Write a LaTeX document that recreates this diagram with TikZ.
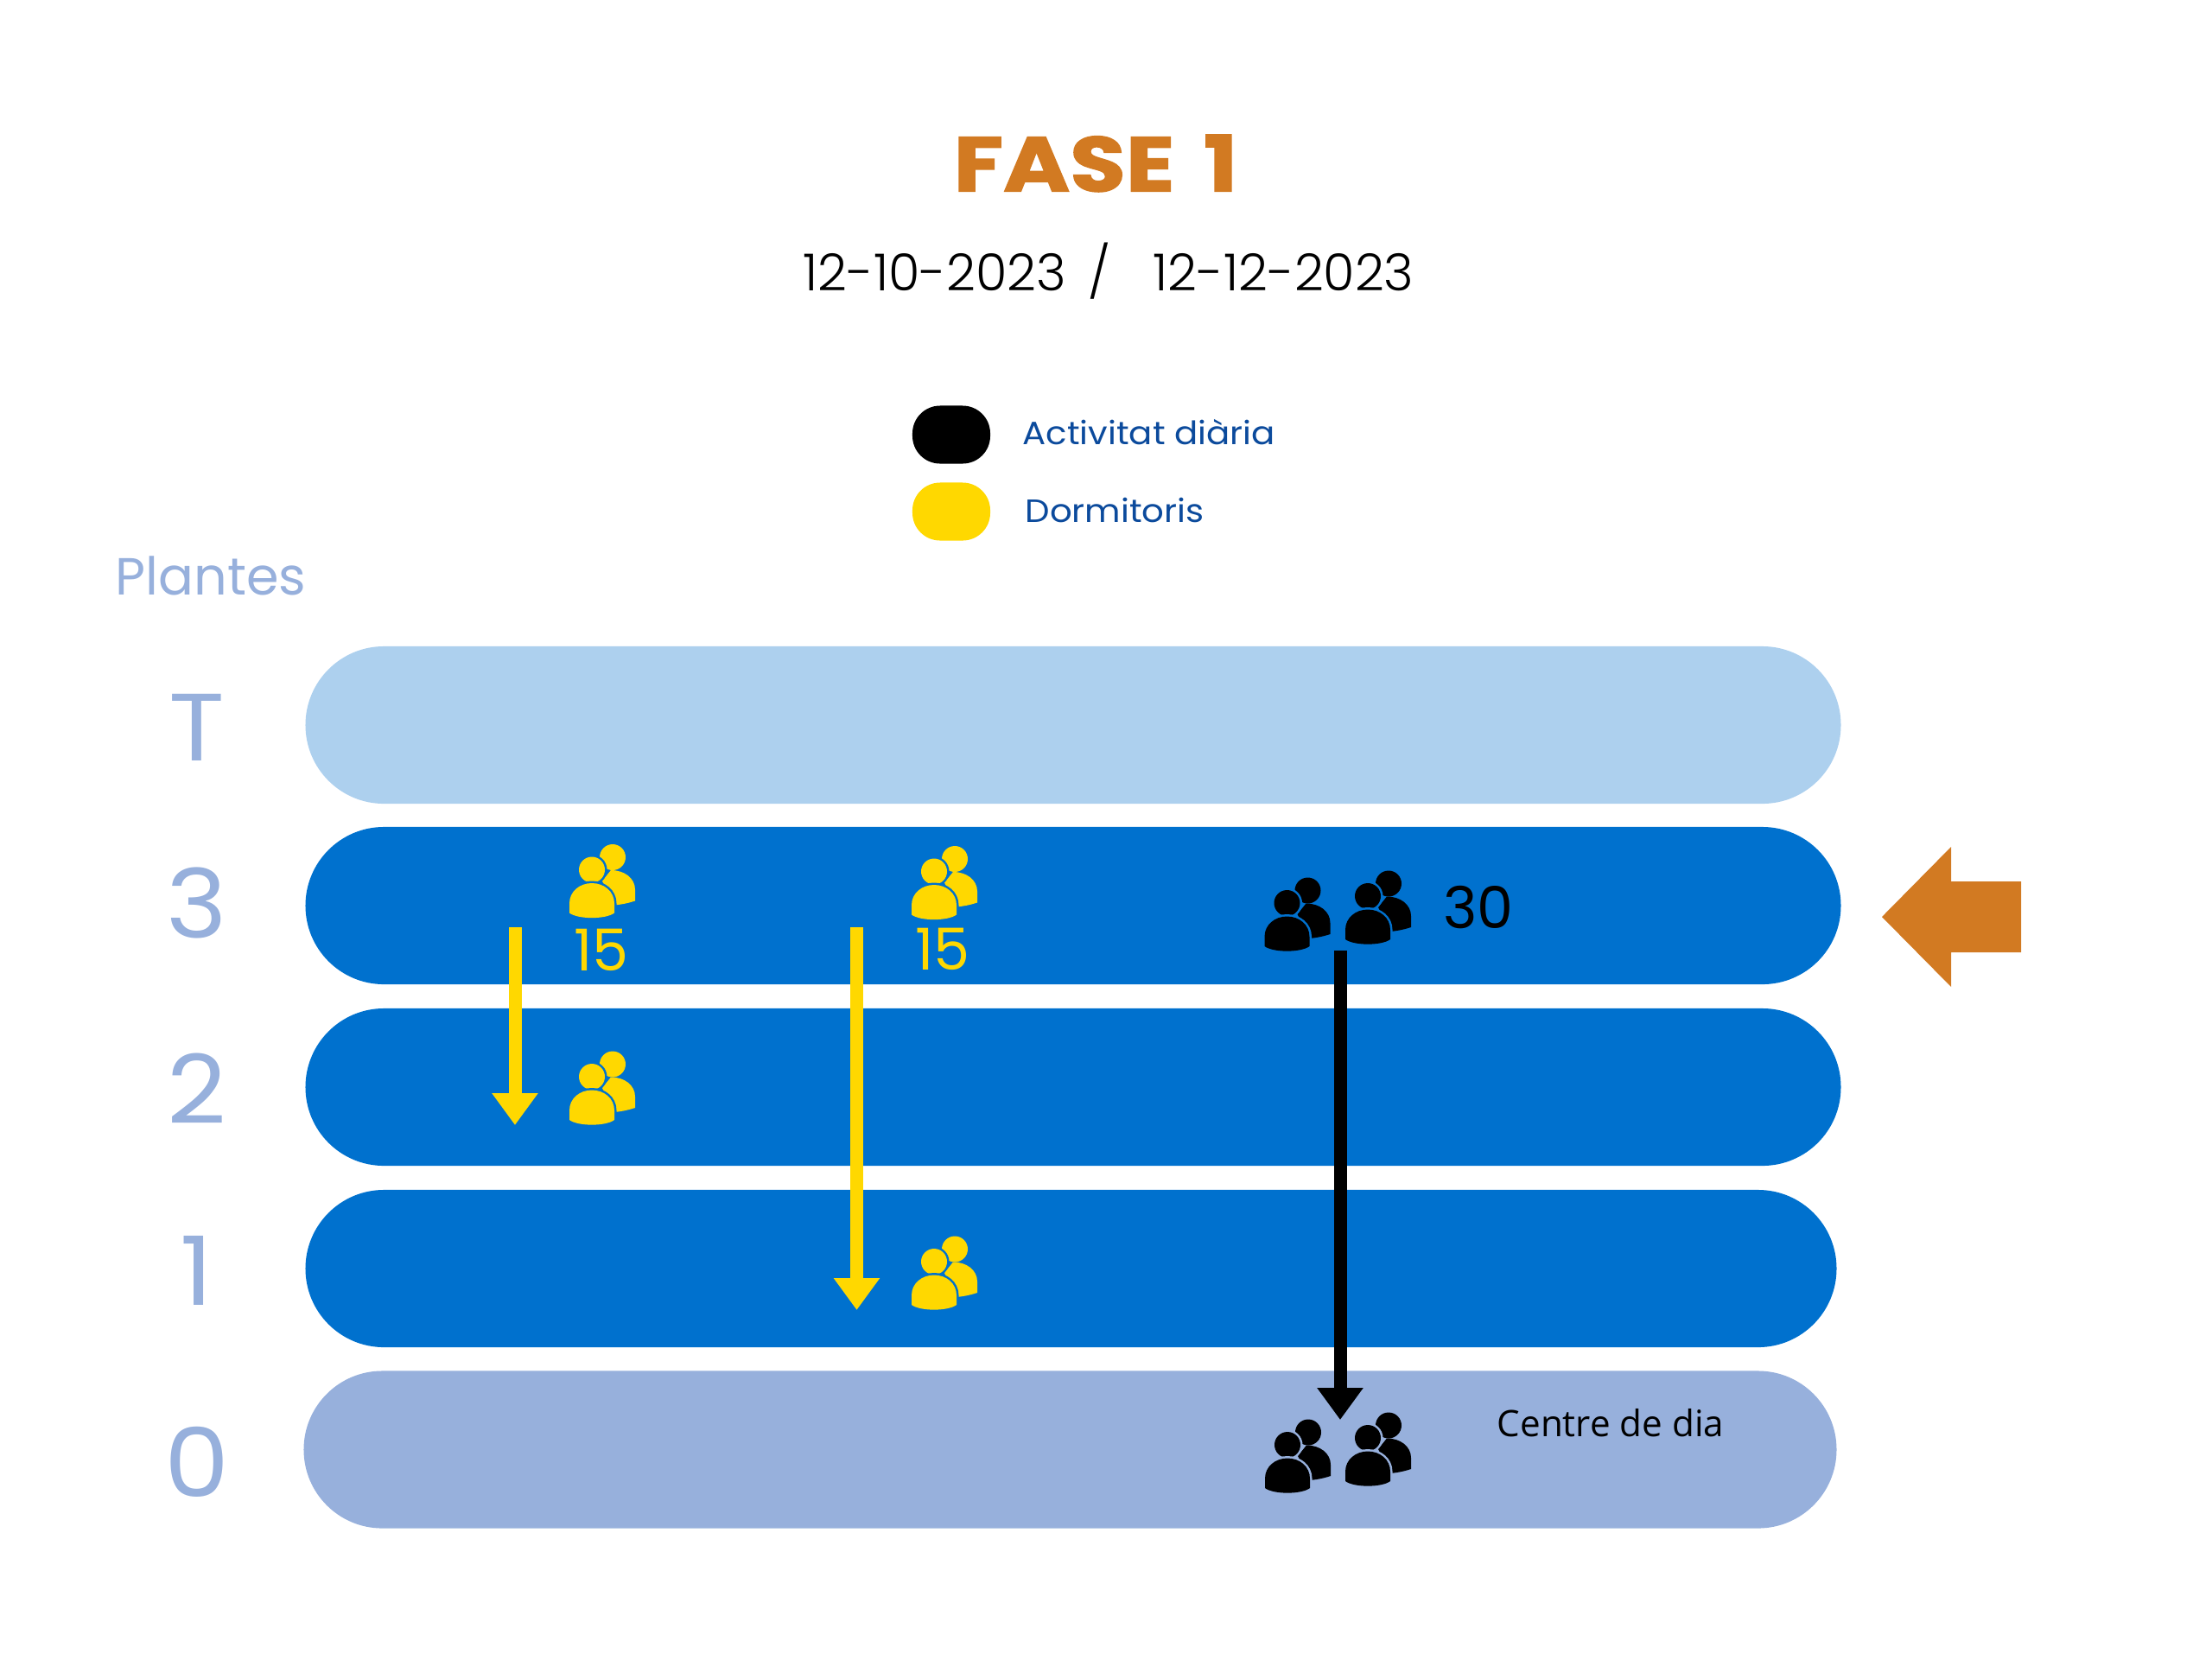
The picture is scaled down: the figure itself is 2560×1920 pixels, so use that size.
\documentclass[tikz,border=0pt]{standalone}
\usepackage{fontspec}
\setmainfont{Poppins}
\newfontfamily\lightfont{Poppins Light}
\newfontfamily\widefont[FakeStretch=1.08]{Poppins}
\newfontfamily\titlefont[FakeBold=1.6, FakeStretch=1.17, WordSpace=1.5]{Poppins Bold}
\newfontfamily\labelfont{Open Sans}
\usetikzlibrary{calc, arrows.meta}
\definecolor{phaseorange}{HTML}{D27A22}
\definecolor{floorblue}{HTML}{0071CE}
\definecolor{floorsky}{HTML}{ADD0EE}
\definecolor{floorpale}{HTML}{97B0DC}
\definecolor{bedgold}{HTML}{FFD800}
\definecolor{inkblue}{HTML}{0B4A9C}
\tikzset{
  >=latex,
  floorbar/.style={minimum width=17.76cm, minimum height=1.82cm, inner sep=0pt, rounded corners=.909cm},
  keypill/.style={minimum width=.9cm, minimum height=.67cm, inner sep=0pt, rounded corners=.32cm},
  floorlabel/.style={text=floorpale, font=\widefont\fontsize{31.5}{32}\selectfont},
  countlabel/.style={font=\fontsize{19}{19}\selectfont},
  keylabel/.style={text=inkblue, anchor=west, inner sep=0pt, font=\widefont\fontsize{10.6}{12}\selectfont},
  flowarrow/.style={line width=.15cm, -{Triangle[length=.37cm, width=.51cm]}},
  pics/people/.style 2 args={code={
    \fill[#1] (12,-27.5) circle (15);
    \fill[#1] (10,-12.5) .. controls (26,-12.5) and (38,-3) .. (38,10) -- (38,23)
      .. controls (32,25) and (24,27) .. (14,28) -- (0,0) -- cycle;
    \path[fill=#1, preaction={draw=#2, line width=.05cm}] (-12,-13) circle (15);
    \path[fill=#1, preaction={draw=#2, line width=.05cm}] (-38,37) -- (-38,26)
      .. controls (-38,12) and (-26,2.5) .. (-12,2.5)
      .. controls (2,2.5) and (14,12) .. (14,26) -- (14,37)
      .. controls (4,44.5) and (-28,44.5) .. (-38,37) -- cycle;
  }}
}

\begin{document}
\begin{tikzpicture}[x=.01cm, y=-.01cm]
\useasboundingbox (0,0) rectangle (2560,1920);

\node[text=phaseorange, font=\titlefont\fontsize{25.5}{26}\selectfont] (title) at (1268,189) {FASE 1};
\node[font=\lightfont\fontsize{16.8}{18}\selectfont] (dates) at (1283,314) {12-10-2023\ \,/\ \ \ 12-12-2023};

\node[keypill, fill=black] (keydaily) at (1101,503) {};
\node[keypill, fill=bedgold] (keybed) at (1101,592) {};
\node[keylabel] (keydailytext) at (1183,500) {Activitat diària};
\node[keylabel] (keybedtext) at (1186,590) {Dormitoris};
\node[text=floorpale, font=\fontsize{17.2}{18}\selectfont] (plantes) at (244,666) {Plantes};

\node[floorbar, fill=floorsky] (barT) at (1242,839) {};
\node[floorbar, fill=floorblue] (barthree) at (1242,1048) {};
\node[floorbar, fill=floorblue] (bartwo) at (1242,1258) {};
\node[floorbar, fill=floorblue, minimum width=17.71cm] (barone) at (1239.5,1468) {};
\node[floorbar, fill=floorpale, minimum width=17.73cm] (barzero) at (1238.5,1677.5) {};

\node[floorlabel] (labelT) at (228,842) {T};
\node[floorlabel] (labelthree) at (228,1045) {3};
\node[floorlabel] (labeltwo) at (228,1260) {2};
\node[floorlabel] (labelone) at (228,1470) {1};
\node[floorlabel] (labelzero) at (228,1692) {0};

\pic (bedA) at (697,1019.5) {people={bedgold}{floorblue}};
\pic (bedB) at (697,1259) {people={bedgold}{floorblue}};
\pic (bedC) at (1093,1021.5) {people={bedgold}{floorblue}};
\pic (bedD) at (1093,1473) {people={bedgold}{floorblue}};
\pic (dayA) at (1501.5,1058) {people={black}{floorblue}};
\pic (dayB) at (1595,1050) {people={black}{floorblue}};
\pic (dayC) at (1502,1685) {people={black}{floorpale}};
\pic (dayD) at (1595,1677) {people={black}{floorpale}};

\node[countlabel, text=bedgold] (countA) at (696,1099) {15};
\node[countlabel, text=bedgold] (countB) at (1091,1098) {15};
\node[countlabel] (countC) at (1711,1050) {30};
\node[font=\labelfont\fontsize{12}{12}\selectfont] (centre) at (1864,1647) {Centre de dia};

\coordinate (bedAstart) at (596,1073);
\coordinate (bedAend) at (596,1302);
\coordinate (bedBstart) at (991.5,1073);
\coordinate (bedBend) at (991.5,1516);
\coordinate (daystart) at (1551,1100);
\coordinate (dayend) at (1551,1643);
\draw[flowarrow, bedgold] (bedAstart) -- (bedAend);
\draw[flowarrow, bedgold] (bedBstart) -- (bedBend);
\draw[flowarrow, black] (daystart) -- (dayend);

\fill[phaseorange] (2178,1061) -- (2258,980) -- (2258,1020) -- (2339,1020)
  -- (2339,1102) -- (2258,1102) -- (2258,1142) -- cycle;
\end{tikzpicture}
\end{document}
